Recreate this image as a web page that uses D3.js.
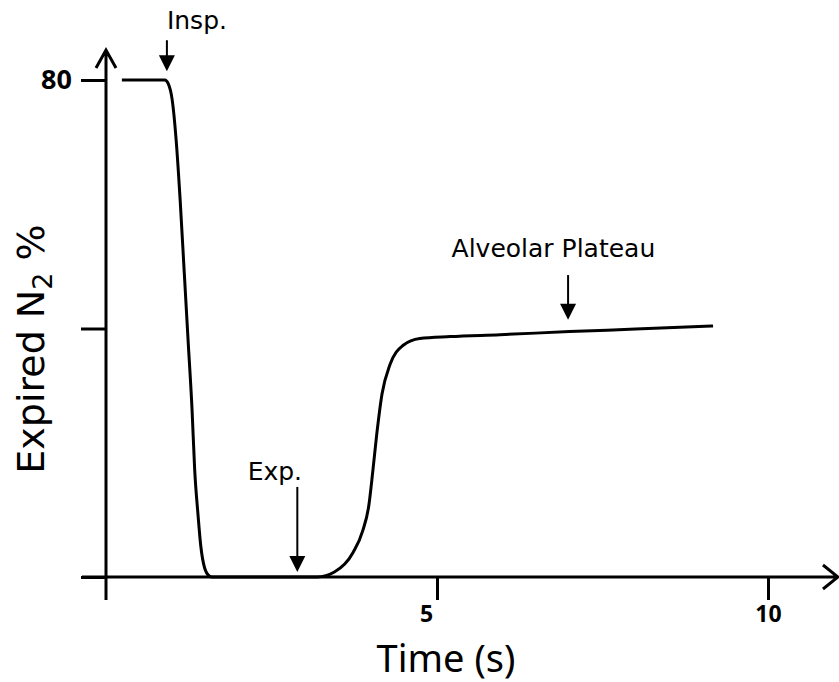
<!DOCTYPE html>
<html>
<head>
<meta charset="utf-8">
<script src="https://cdn.jsdelivr.net/npm/d3@7"></script>
<style>
  body { margin: 0; background: #fff; }
  svg text { font-family: "DejaVu Sans", sans-serif; fill: #000; }
</style>
</head>
<body>
<svg id="chart" width="839" height="682"></svg>
<script>
// washout curve
var timeS = [0.24, 0.89, 0.94, 1.00, 1.06, 1.12, 1.18, 1.24, 1.30, 1.34, 1.39, 1.43, 1.49, 1.56, 1.60,
             2.5, 3.19, 3.45, 3.73, 3.88, 3.97, 4.03, 4.09, 4.17, 4.29, 4.49, 4.74, 5.2, 5.95, 7.0, 8.0, 9.17];
var n2Pct = [80, 80, 79.4, 76.8, 70.3, 60.7, 49.4, 38.1, 26.9, 17.2, 10.0, 5.15, 1.45, 0.16, 0,
             0, 0, 0.8, 3.9, 7.5, 11.5, 17, 23, 29.5, 34.2, 37.3, 38.4, 38.7, 39.0, 39.5, 39.9, 40.4];

var xTicks = [5, 10];
var xTickShift = {5: -11, 10: 0};
var yTicks = [0, 40, 80];
var yTickLabels = {80: "80"};

var noteText = ["Insp.", "Exp.", "Alveolar Plateau"];
var noteTime = [0.92, 2.89, 6.98];
var noteFrom = [86.4, 14.5, 48.6];   // arrow tail (value units)
var noteTo = [81.4, 0.8, 41.4];      // arrow tip
var noteLabelT = [0.92, 2.14, 5.22];
var noteLabelV = [88.2, 15.6, 51.5];

var svg = d3.select("#chart");
var x = d3.scaleLinear().domain([0, 10]).range([106, 768]);
var y = d3.scaleLinear().domain([0, 80]).range([577, 80]);

// axes
var xaxis = d3.axisBottom(x).tickValues(xTicks).tickSize(23).tickPadding(6).tickFormat(d3.format("d"));
var yaxis = d3.axisLeft(y).tickValues(yTicks).tickSize(25).tickPadding(9)
    .tickFormat(function(d) { return yTickLabels[d] || ""; });

var gx = svg.append("g").attr("transform", "translate(0," + y(0) + ")").call(xaxis);
gx.select(".domain").remove();
gx.selectAll("line").attr("stroke", "#000").attr("stroke-width", 3);
gx.selectAll("text").attr("font-size", 23).attr("font-weight", "bold")
    .attr("dx", function(d) { return xTickShift[d]; })
    .style("font-family", "'Noto Sans', sans-serif");

var gy = svg.append("g").attr("transform", "translate(" + x(0) + ",0)").call(yaxis);
gy.select(".domain").remove();
gy.selectAll("line").attr("stroke", "#000").attr("stroke-width", 3);
gy.selectAll("text").attr("font-size", 27).attr("font-weight", "bold").style("font-family", "'Noto Sans', sans-serif");

// axis lines with open arrowheads
svg.append("path")
    .attr("d", "M82," + y(0) + "H838M823,565L838," + y(0) + "L823,589")
    .attr("fill", "none").attr("stroke", "#000").attr("stroke-width", 3);
svg.append("path")
    .attr("d", "M" + x(0) + ",600V50M" + (x(0) - 10) + ",68L" + x(0) + ",50L" + (x(0) + 10) + ",68")
    .attr("fill", "none").attr("stroke", "#000").attr("stroke-width", 3);

// curve
var line = d3.line()
    .x(function(d) { return x(d[0]); })
    .y(function(d) { return y(d[1]); })
    .curve(d3.curveMonotoneX);
svg.append("path")
    .datum(d3.zip(timeS, n2Pct))
    .attr("d", line)
    .attr("fill", "none").attr("stroke", "#000").attr("stroke-width", 3)
    .attr("stroke-linejoin", "round");

// annotations
noteText.forEach(function(t, i) {
  var ax = x(noteTime[i]), y0 = y(noteFrom[i]), y1 = y(noteTo[i]);
  svg.append("line").attr("x1", ax).attr("x2", ax).attr("y1", y0).attr("y2", y1 - 14)
      .attr("stroke", "#000").attr("stroke-width", 2);
  svg.append("path").attr("d", "M" + (ax - 8) + "," + (y1 - 16) + "L" + (ax + 8) + "," + (y1 - 16) + "L" + ax + "," + y1 + "Z")
      .attr("fill", "#000");
  svg.append("text").attr("x", x(noteLabelT[i])).attr("y", y(noteLabelV[i]))
      .attr("font-size", 25).text(t);
});

// axis titles
svg.append("text").attr("x", 446).attr("y", 672).attr("text-anchor", "middle")
    .attr("font-size", 38).style("font-family", "'Noto Sans', sans-serif").text("Time (s)");
var yl = svg.append("text").attr("transform", "translate(44,349) rotate(-90)")
    .attr("text-anchor", "middle").attr("font-size", 38);
yl.append("tspan").text("Expired N");
yl.append("tspan").attr("font-size", 27).attr("dy", 8).text("2");
yl.append("tspan").attr("dy", -8).text(" %");
</script>
</body>
</html>
